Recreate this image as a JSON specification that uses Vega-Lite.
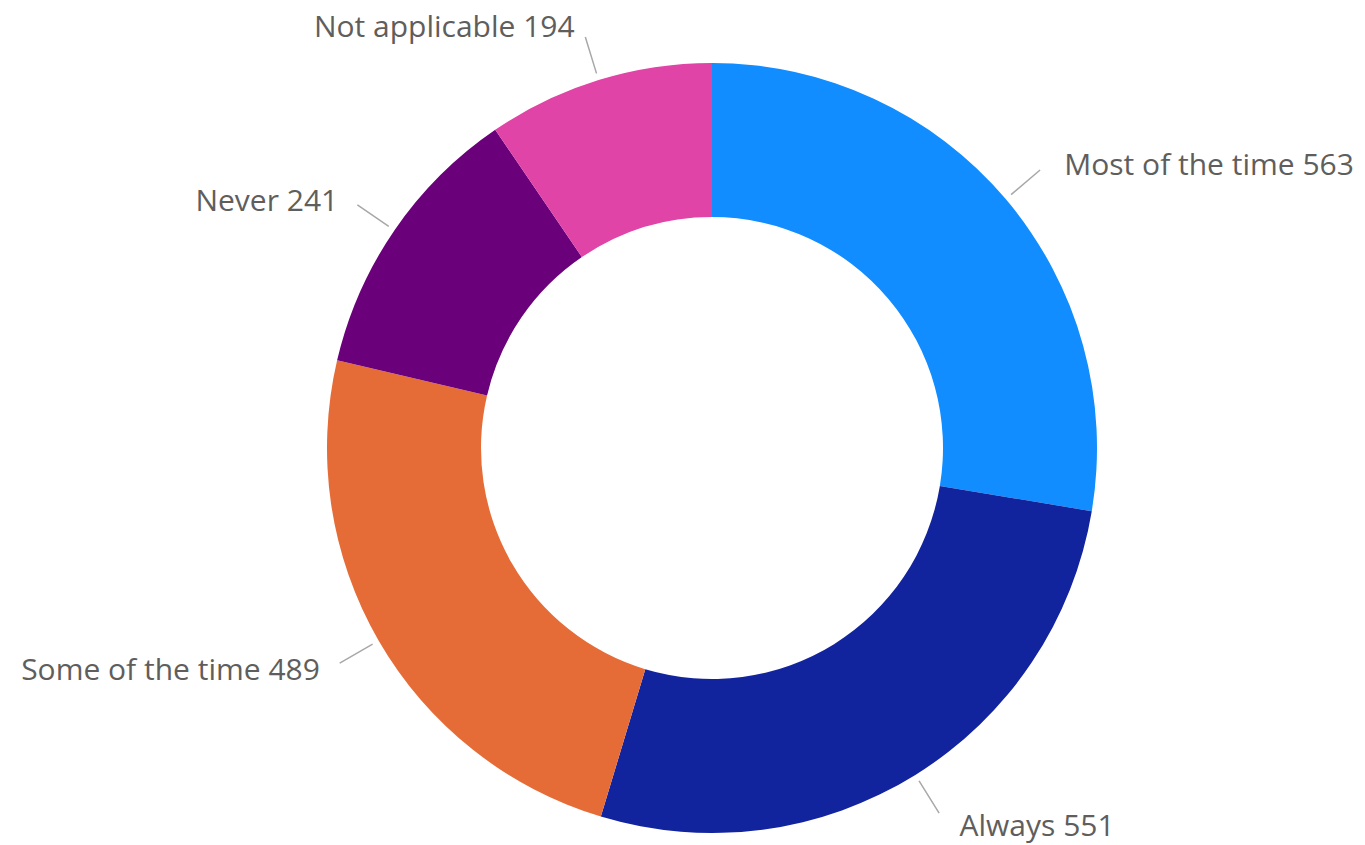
{
  "$schema": "https://vega.github.io/schema/vega-lite/v6.json",
  "width": 1300,
  "height": 794,
  "autosize": "none",
  "padding": {"left": 62, "top": 51, "right": 3, "bottom": 0},
  "background": "white",
  "config": {"view": {"stroke": null}},
  "data": {
    "values": [
      {"category": "Most of the time", "count": 563, "idx": 1},
      {"category": "Always", "count": 551, "idx": 2},
      {"category": "Some of the time", "count": 489, "idx": 3},
      {"category": "Never", "count": 241, "idx": 4},
      {"category": "Not applicable", "count": 194, "idx": 5}
    ]
  },
  "encoding": {
    "theta": {"field": "count", "type": "quantitative", "stack": true},
    "order": {"field": "idx", "type": "quantitative", "sort": "ascending"}
  },
  "layer": [
    {
      "mark": {"type": "arc", "radius": 385, "radius2": 231},
      "encoding": {
        "color": {
          "field": "category",
          "type": "nominal",
          "legend": null,
          "scale": {
            "domain": ["Most of the time", "Always", "Some of the time", "Never", "Not applicable"],
            "range": ["#118DFF", "#12239E", "#E66C37", "#6B007B", "#E044A7"]
          }
        }
      }
    },
    {
      "mark": {"type": "arc", "radius": 430, "radius2": 392, "padAngle": 2, "fill": "transparent", "stroke": "#A8A8A8", "strokeWidth": 1.5},
      "encoding": {}
    },
    {
      "transform": [{"calculate": "datum.category + ' ' + datum.count", "as": "label"}],
      "mark": {
        "type": "text",
        "radius": 446,
        "font": "Open Sans",
        "fontSize": 30,
        "color": "#605E5C",
        "baseline": "middle",
        "dy": {"expr": "abs(datum.count_start + datum.count_end - 2038) > 1019 ? 6 : 0"},
        "dx": {"expr": "(datum.count_start + datum.count_end) < 2038 ? 12 : -6"},
        "align": {"expr": "(datum.count_start + datum.count_end) < 2038 ? 'left' : 'right'"}
      },
      "encoding": {"text": {"field": "label"}}
    }
  ]
}
